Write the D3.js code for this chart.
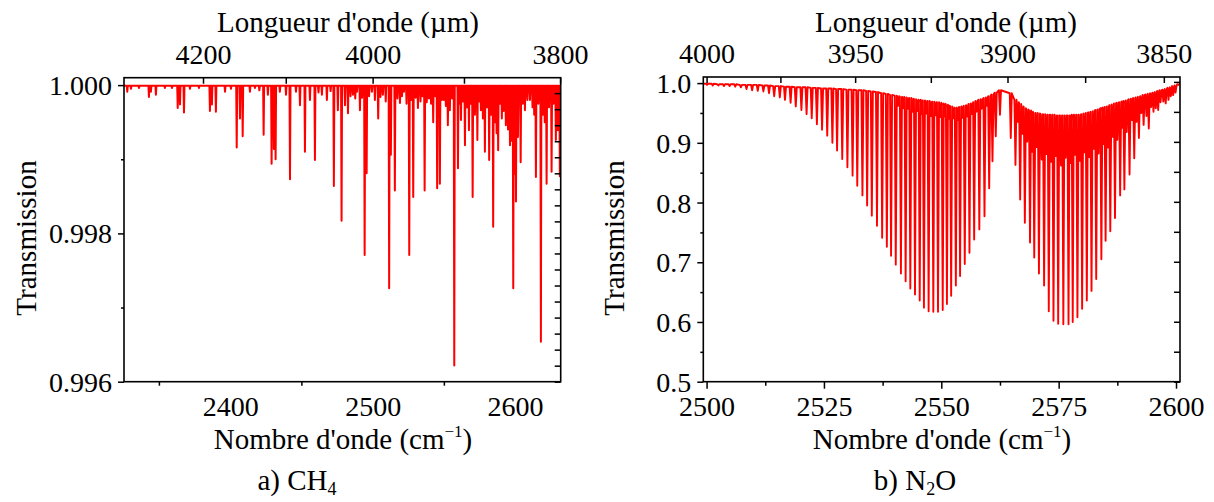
<!DOCTYPE html>
<html><head><meta charset="utf-8">
<script src="https://cdn.jsdelivr.net/npm/d3@7"></script>
<style>body{margin:0;background:#fff}</style>
</head><body><svg id="c" width="1214" height="502" xmlns="http://www.w3.org/2000/svg"></svg>
<script>
// ---------- DATA ----------
// CH4: line centres (cm-1) and line-minimum transmission, baseline value
const ch4Base = 0.99999;
const ch4Nu = [2327.8,2330.4,2336.0,2343.0,2344.4,2347.9,2354.2,2359.2,2363.2,2364.8,2367.6,2371.8,2378.1,2385.8,2387.2,2390.0,2396.4,2400.6,2404.6,2406.9,2408.8,2413.9,2417.4,2420.5,2423.5,2426.5,2429.1,2430.7,2431.9,2434.9,2439.2,2442.0,2446.2,2449.0,2452.5,2456.0,2459.5,2462.0,2464.4,2467.9,2470.5,2472.8,2475.6,2478.2,2480.6,2482.7,2484.5,2486.2,2487.8,2489.0,2491.1,2492.6,2494.4,2495.8,2497.5,2499.5,2501.6,2503.9,2505.5,2507.2,2509.2,2511.6,2512.8,2515.6,2517.4,2519.2,2520.6,2522.0,2523.8,2525.7,2527.0,2528.5,2530.2,2531.8,2533.6,2535.0,2536.5,2538.0,2539.5,2541.0,2542.5,2544.0,2545.3,2547.2,2548.6,2550.0,2551.4,2552.8,2554.2,2555.8,2557.3,2559.9,2561.0,2562.0,2563.4,2564.8,2566.2,2567.6,2568.9,2570.2,2571.8,2573.5,2574.8,2576.0,2577.4,2578.8,2580.3,2581.8,2583.2,2584.6,2586.0,2587.0,2588.1,2589.4,2590.7,2592.0,2593.5,2595.0,2596.4,2597.6,2598.7,2599.6,2600.6,2602.0,2603.9,2605.4,2606.9,2608.6,2610.4,2612.2,2613.4,2614.6,2616.3,2618.1,2619.5,2620.8,2622.1,2623.8,2625.6,2627.0,2628.6,2630.0,2631.4];
const ch4T = [0.99991,0.99995,0.99996,0.99984,0.99991,0.99987,0.99996,0.99996,0.99969,0.99974,0.99963,0.99995,0.99996,0.99965,0.99974,0.99964,0.99991,0.99995,0.99916,0.99955,0.99931,0.99991,0.99996,0.99993,0.99933,0.99987,0.99894,0.99914,0.99900,0.99991,0.99987,0.99873,0.99991,0.99973,0.99910,0.99980,0.99899,0.99990,0.99987,0.99980,0.99992,0.99864,0.99966,0.99817,0.99973,0.99962,0.99985,0.99987,0.99982,0.99991,0.99966,0.99983,0.99771,0.99881,0.99985,0.99991,0.99980,0.99955,0.99984,0.99987,0.99978,0.99726,0.99906,0.99858,0.99982,0.99976,0.99985,0.99991,0.99975,0.99771,0.99980,0.99849,0.99983,0.99969,0.99978,0.99985,0.99858,0.99977,0.99982,0.99975,0.99950,0.99985,0.99861,0.99867,0.99980,0.99980,0.99972,0.99946,0.99966,0.99982,0.99622,0.99888,0.99975,0.99953,0.99978,0.99919,0.99970,0.99939,0.99975,0.99849,0.99960,0.99926,0.99978,0.99966,0.99955,0.99910,0.99970,0.99899,0.99960,0.99809,0.99950,0.99935,0.99912,0.99975,0.99955,0.99965,0.99946,0.99940,0.99919,0.99925,0.99726,0.99880,0.99843,0.99930,0.99896,0.99975,0.99966,0.99980,0.99980,0.99970,0.99960,0.99876,0.99975,0.99654,0.99960,0.99950,0.99867,0.99970,0.99883,0.99975,0.99926,0.99939,0.99877];

// N2O main band lines: centre (cm-1), minimum, local top between lines
const n2oNu = [2500.1,2501.3,2502.5,2503.7,2504.9,2506.1,2507.3,2508.5,2509.7,2510.9,2512.1,2513.3,2514.4,2515.6,2516.7,2517.9,2519.0,2520.2,2521.3,2522.4,2523.5,2524.6,2525.7,2526.8,2527.8,2528.9,2530.0,2531.1,2532.1,2533.2,2534.2,2535.2,2536.3,2537.4,2538.4,2539.3,2540.3,2541.4,2542.4,2543.4,2544.4,2545.4,2546.3,2547.3,2548.3,2549.3,2550.3,2551.2,2552.1,2553.1,2554.0,2555.0,2556.0,2557.0,2558.1,2559.2,2560.2,2560.9,2561.6,2562.5,
  2564.8,2565.8,2566.8,2567.8,2568.9,2569.8,2570.8,2571.9,2572.9,2573.9,2574.9,2576.0,2577.1,2578.0,2579.0,2580.0,2581.0,2582.0,2583.0,2584.1,2585.0,2586.0,2587.0,2588.1,2589.0,2590.1,2591.1,2592.1,2593.1,2594.2,2595.2,2596.2,2597.3,2598.4,2599.4,2600.5];
const n2oMin = [0.997,0.996,0.996,0.995,0.995,0.994,0.993,0.990,0.988,0.987,0.986,0.983,0.978,0.976,0.972,0.967,0.961,0.955,0.948,0.941,0.931,0.922,0.912,0.900,0.887,0.873,0.859,0.845,0.828,0.812,0.795,0.778,0.761,0.741,0.726,0.711,0.696,0.681,0.668,0.656,0.646,0.636,0.624,0.618,0.617,0.617,0.620,0.630,0.644,0.661,0.677,0.697,0.716,0.738,0.755,0.777,0.824,0.869,0.911,0.947,
  0.908,0.863,0.805,0.766,0.733,0.708,0.681,0.661,0.618,0.602,0.597,0.596,0.596,0.600,0.608,0.622,0.636,0.652,0.672,0.705,0.736,0.752,0.774,0.812,0.822,0.847,0.874,0.908,0.930,0.924,0.952,0.955,0.969,0.972,0.980,0.997];
const n2oTop = [0.999,0.999,0.998,0.998,0.998,0.998,0.997,0.997,0.997,0.997,0.996,0.996,0.995,0.995,0.994,0.994,0.993,0.993,0.993,0.992,0.992,0.991,0.991,0.991,0.990,0.990,0.989,0.989,0.988,0.988,0.987,0.986,0.985,0.983,0.982,0.980,0.979,0.977,0.976,0.975,0.973,0.972,0.971,0.970,0.969,0.968,0.966,0.964,0.961,0.958,0.960,0.962,0.965,0.968,0.972,0.975,0.978,0.981,0.984,0.988,
  0.983,0.972,0.965,0.958,0.954,0.950,0.949,0.948,0.947,0.947,0.946,0.946,0.946,0.947,0.947,0.948,0.950,0.952,0.955,0.958,0.960,0.963,0.966,0.968,0.970,0.973,0.975,0.977,0.980,0.982,0.984,0.987,0.989,0.992,0.995,0.998];
// N2O weaker (hot band) lines between the main lines
const n2oHotNu = [2540.8,2541.9,2542.9,2543.9,2544.9,2545.8,2546.8,2547.8,2548.8,2549.8,2550.7,2551.6,2552.6,2553.5,2554.5,2555.5,2556.5,2557.5,2558.6,2559.7,
  2566.3,2567.3,2568.3,2569.3,2570.3,2571.4,2572.4,2573.4,2574.4,2575.5,2576.5,2577.6,2578.5,2579.5,2580.5,2581.5,2582.5,2583.5,2584.5,2585.5,2586.5,2587.5,2588.6,2589.5,2590.6,2591.6,2592.6,2593.7,2594.7,2595.7,2596.7,2597.8,2598.9,2599.9];
const n2oHotMin = [0.962,0.958,0.957,0.952,0.953,0.948,0.949,0.945,0.946,0.943,0.944,0.940,0.941,0.938,0.942,0.944,0.948,0.952,0.957,0.962,
  0.935,0.915,0.902,0.885,0.893,0.872,0.881,0.868,0.878,0.862,0.875,0.866,0.880,0.870,0.884,0.876,0.890,0.882,0.898,0.892,0.910,0.905,0.925,0.918,0.938,0.935,0.950,0.945,0.960,0.958,0.968,0.966,0.978,0.984];
const n2oHotTop = [0.978,0.977,0.975,0.974,0.972,0.971,0.970,0.969,0.968,0.967,0.965,0.962,0.959,0.959,0.961,0.963,0.966,0.970,0.973,0.976,
  0.968,0.961,0.956,0.952,0.950,0.948,0.947,0.947,0.946,0.946,0.946,0.946,0.947,0.947,0.949,0.951,0.953,0.956,0.959,0.961,0.964,0.967,0.969,0.971,0.974,0.976,0.978,0.981,0.983,0.985,0.988,0.990,0.993,0.996];

// Tick values / labels
const ch4XTicks = [2400, 2500, 2600];
const ch4XMinor = [2350, 2450, 2550];
const ch4YTicks = [0.996, 0.998, 1.000];
const ch4YMinor = [0.997, 0.999];
const ch4TopWl = [4200, 4000, 3800];
const ch4TopWlMinor = [4100, 3900];
const n2oXTicks = [2500, 2525, 2550, 2575, 2600];
const n2oXMinor = [2512.5, 2537.5, 2562.5, 2587.5];
const n2oYTicks = [0.5, 0.6, 0.7, 0.8, 0.9, 1.0];
const n2oYMinor = [0.55, 0.65, 0.75, 0.85, 0.95];
const n2oTopWl = [4000, 3950, 3900, 3850];
const n2oTopWlMinor = [3975, 3925, 3875];

// ---------- DRAWING ----------
const FONT = '"Liberation Serif", "Times New Roman", serif';
const svg = d3.select("#c");

function styleAxis(g, fs) {
  g.attr("font-family", FONT).attr("font-size", fs);
  g.select(".domain").remove();
  g.selectAll("line").attr("stroke", "#000").attr("stroke-width", 1.5);
  g.selectAll("text").attr("fill", "#000");
}

function drawPanel(p) {
  const x = d3.scaleLinear().domain(p.xd).range(p.xr);
  const y = d3.scaleLinear().domain(p.yd).range(p.yr);
  const clipId = "clip" + p.id;
  svg.append("clipPath").attr("id", clipId).append("rect")
    .attr("x", p.xr[0]).attr("y", p.yr[1])
    .attr("width", p.xr[1] - p.xr[0]).attr("height", p.yr[0] - p.yr[1]);

  const pts = [[p.xd[0], p.lines[0].top]];
  p.lines.forEach(l => {
    pts.push([l.nu - p.hw, l.top]);
    pts.push([l.nu, l.min]);
    pts.push([l.nu + p.hw, l.top]);
  });
  pts.push([p.xd[1], p.lines[p.lines.length - 1].top]);
  svg.append("path")
    .attr("clip-path", `url(#${clipId})`)
    .attr("d", d3.line().x(d => x(d[0])).y(d => y(d[1]))(pts))
    .attr("fill", "none").attr("stroke", "#ff0000")
    .attr("stroke-width", p.sw).attr("stroke-linejoin", "round");

  // bottom axis
  const gb = svg.append("g").attr("transform", `translate(0,${p.yr[0]})`)
    .call(d3.axisBottom(x).tickValues(p.xTicks).tickSize(p.xMajorLen).tickFormat(d3.format("d")));
  styleAxis(gb, 28);
  gb.selectAll("text").attr("dy", null).attr("y", 34.5);
  const gbm = svg.append("g").attr("transform", `translate(0,${p.yr[0]})`)
    .call(d3.axisBottom(x).tickValues(p.xMinor).tickSize(4).tickFormat(""));
  styleAxis(gbm, 28);

  // left axis
  const gl = svg.append("g").attr("transform", `translate(${p.xr[0]},0)`)
    .call(d3.axisLeft(y).tickValues(p.yTicks).tickSize(6).tickPadding(6).tickFormat(d3.format(p.yFmt)));
  styleAxis(gl, 28);
  gl.selectAll("text").attr("dy", "0.34em");
  const glm = svg.append("g").attr("transform", `translate(${p.xr[0]},0)`)
    .call(d3.axisLeft(y).tickValues(p.yMinor).tickSize(3).tickFormat(""));
  styleAxis(glm, 28);

  // right axis (inward ticks, no labels)
  const gr = svg.append("g").attr("transform", `translate(${p.xr[1]},0)`)
    .call(d3.axisRight(y).tickValues(p.rTicks).tickSizeInner(-6).tickSizeOuter(0).tickFormat(""));
  styleAxis(gr, 28);

  // top axis: wavelength (nm) placed at 1e7/lambda
  const gt = svg.append("g").attr("transform", `translate(0,${p.yr[1]})`)
    .call(d3.axisTop(x).tickValues(p.topWl.map(w => 1e7 / w)).tickSizeInner(-6).tickSizeOuter(0)
      .tickPadding(14).tickFormat(v => Math.round(1e7 / v)));
  styleAxis(gt, 28);
  const gtm = svg.append("g").attr("transform", `translate(0,${p.yr[1]})`)
    .call(d3.axisTop(x).tickValues(p.topWlMinor.map(w => 1e7 / w)).tickSizeInner(-6).tickSizeOuter(0).tickFormat(""));
  styleAxis(gtm, 28);

  // frame
  svg.append("rect").attr("x", p.xr[0]).attr("y", p.yr[1])
    .attr("width", p.xr[1] - p.xr[0]).attr("height", p.yr[0] - p.yr[1])
    .attr("fill", "none").attr("stroke", "#000").attr("stroke-width", 1.6);

  // titles
  svg.append("text").attr("x", p.topTitleX).attr("y", 32).attr("text-anchor", "middle")
    .attr("font-family", FONT).attr("font-size", 29).text("Longueur d'onde (\u00b5m)");
  const bt = svg.append("text").attr("x", p.botTitleX).attr("y", 449).attr("text-anchor", "middle")
    .attr("font-family", FONT).attr("font-size", 29);
  bt.append("tspan").text("Nombre d'onde (cm");
  bt.append("tspan").attr("font-size", 17).attr("dy", -12).text("\u22121");
  bt.append("tspan").attr("dy", 12).text(")");
  svg.append("text").attr("transform", `translate(${p.yTitleX},238) rotate(-90)`).attr("text-anchor", "middle")
    .attr("font-family", FONT).attr("font-size", 29).text("Transmission");
  const cap = svg.append("text").attr("x", p.capX).attr("y", 490).attr("text-anchor", "middle")
    .attr("font-family", FONT).attr("font-size", 29);
  p.caption.forEach(c => {
    const t = cap.append("tspan").text(c.t);
    if (c.sub) t.attr("font-size", 18).attr("dy", 5);
    if (c.back) t.attr("dy", -5);
  });
}

const ch4Lines = ch4Nu.map((n, i) => ({nu: n, min: ch4T[i], top: ch4Base}));
const n2oLines = n2oNu.map((n, i) => ({nu: n, min: n2oMin[i], top: n2oTop[i]}))
  .concat(n2oHotNu.map((n, i) => ({nu: n, min: n2oHotMin[i], top: n2oHotTop[i]})))
  .sort((a, b) => a.nu - b.nu);

drawPanel({
  id: "a", xd: [2325.5, 2632], xr: [124, 560.7], yd: [0.996, 1.0001], yr: [381.7, 77.7],
  lines: ch4Lines, hw: 0.35, sw: 2,
  xTicks: ch4XTicks, xMinor: ch4XMinor, xMajorLen: 0,
  yTicks: ch4YTicks, yMinor: ch4YMinor, yFmt: ".3f",
  rTicks: d3.range(19).map(k => 0.996 + k * 0.0002162),
  topWl: ch4TopWl, topWlMinor: ch4TopWlMinor,
  topTitleX: 348, botTitleX: 343, yTitleX: 36, capX: 297,
  caption: [{t: "a) CH"}, {t: "4", sub: true}]
});
drawPanel({
  id: "b", xd: [2499.3, 2600.85], xr: [703.3, 1180], yd: [0.5, 1.0102], yr: [381.7, 77],
  lines: n2oLines, hw: 0.22, sw: 1.9,
  xTicks: n2oXTicks, xMinor: n2oXMinor, xMajorLen: 7,
  yTicks: n2oYTicks, yMinor: n2oYMinor, yFmt: ".1f",
  rTicks: d3.range(11).map(k => 0.5 + k * 0.0502),
  topWl: n2oTopWl, topWlMinor: n2oTopWlMinor,
  topTitleX: 946, botTitleX: 942, yTitleX: 624, capX: 915,
  caption: [{t: "b) N"}, {t: "2", sub: true}, {t: "O", back: true}]
});
</script>
</body></html>
